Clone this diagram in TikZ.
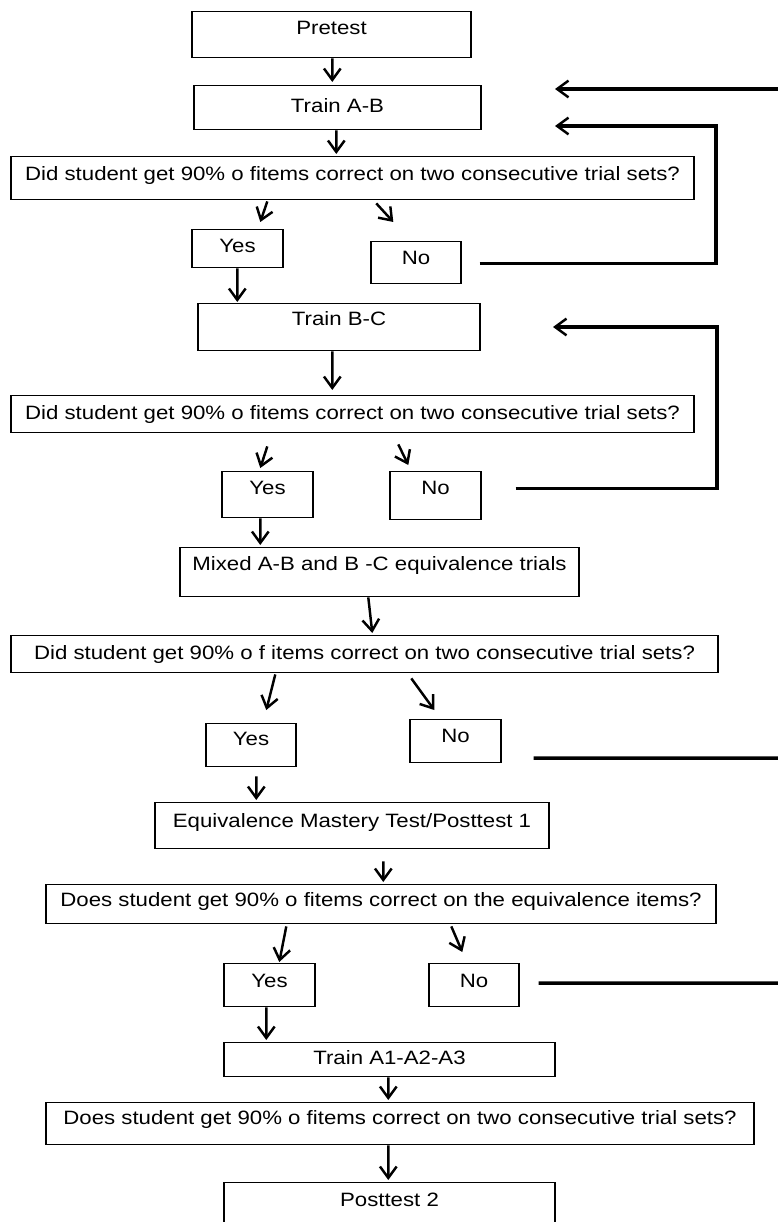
\documentclass[tikz,border=0pt]{standalone}
\usepackage{fontspec}
\setmainfont{Liberation Sans}[FakeStretch=1.15]
\usetikzlibrary{calc,arrows.meta}
\tikzset{
	box/.style={draw, line width=0.8pt, inner sep=0pt, anchor=north, font=\fontsize{11}{13}\selectfont},
	arr/.style={line width=1.4pt, -{Straight Barb[length=6.5pt,width=9.5pt,line width=1.4pt]}},
	ret/.style={line width=2pt, line join=miter},
}
% name, x1, y1, x2, y2, baseline, text (all in px)
\newcommand{\flowbox}[7]{%
	\pgfmathsetmacro\bw{(#4-#2)*0.02}%
	\pgfmathsetmacro\th{(#6-#3)*0.02}%
	\pgfmathsetmacro\td{(#5-#6)*0.02}%
	\node[box, minimum width=\bw cm, text height=\th cm, text depth=\td cm] (#1) at ({(#2+#4)/2},#3) {#7};}

\begin{document}
\begin{tikzpicture}[x=0.02cm, y=-0.02cm]
			%%%%% START %%%%%
			\useasboundingbox (0,0) rectangle (777,1222);
			
			\flowbox{pretest}{192}{11}{471}{57}{34}{Pretest}
			\flowbox{trainAB}{194}{85}{481}{129}{112}{Train A-B}
			\flowbox{qA}{11}{156}{694}{199}{180}{Did student get 90\% o fitems correct on two consecutive trial sets?}
			\flowbox{yesA}{192}{229}{283}{267}{252}{Yes}
			\flowbox{noA}{371}{241}{461}{283}{264}{No}
			
			\flowbox{trainBC}{198}{303}{480}{350}{325}{Train B-C}
			\flowbox{qB}{11}{395}{694}{432}{419}{Did student get 90\% o fitems correct on two consecutive trial sets?}
			\flowbox{yesB}{222}{471}{313}{517}{494}{Yes}
			\flowbox{noB}{390}{471}{481}{519}{494}{No}
			
			\flowbox{mixed}{180}{547}{579}{596}{570}{Mixed A-B and B -C equivalence trials}
			\flowbox{qC}{11}{635}{718}{672}{659}{Did student get 90\% o f items correct on two consecutive trial sets?}
			\flowbox{yesC}{206}{723}{296}{766}{745}{Yes}
			\flowbox{noC}{410}{719}{501}{762}{742}{No}
			
			\flowbox{equiv}{155}{802}{549}{848}{827}{Equivalence Mastery Test/Posttest 1}
			\flowbox{qD}{46}{884}{716}{923}{906}{Does student get 90\% o fitems correct on the equivalence items?}
			\flowbox{yesD}{224}{963}{315}{1006}{987}{Yes}
			\flowbox{noD}{429}{963}{519}{1006}{987}{No}
			
			\flowbox{trainA}{224}{1042}{555}{1076}{1064}{Train A1-A2-A3}
			\flowbox{qE}{46}{1102}{754}{1144}{1124}{Does student get 90\% o fitems correct on two consecutive trial sets?}
			\flowbox{post}{224}{1182}{555}{1240}{1206}{Posttest 2}
			
			% forward arrows
			\draw[arr] ($(pretest.south west)+(141,0)$) -- ($(trainAB.north west)+(139,-3)$);
			\draw[arr] ($(trainAB.south west)+(143,0)$) -- ($(qA.north west)+(326,-2)$);
			\draw[arr] ($(qA.south west)+(257,1)$) -- ($(yesA.north west)+(69,-7)$);
			\draw[arr] ($(qA.south west)+(366,3)$) -- ($(noA.north west)+(23,-19)$);
			\draw[arr] ($(yesA.south west)+(46,0)$) -- ($(trainBC.north west)+(40,-1)$);
			\draw[arr] ($(trainBC.south west)+(135,0)$) -- ($(qB.north west)+(322,-5)$);
			\draw[arr] ($(qB.south west)+(257,13)$) -- ($(yesB.north west)+(39,-3)$);
			\draw[arr] ($(qB.south west)+(388,11)$) -- ($(noB.north west)+(19,-6)$);
			\draw[arr] ($(yesB.south west)+(39,0)$) -- ($(mixed.north west)+(81,-2)$);
			\draw[arr] ($(mixed.south west)+(189,0)$) -- ($(qC.north west)+(362,-2)$);
			\draw[arr] ($(qC.south west)+(265,1)$) -- ($(yesC.north west)+(61,-13)$);
			\draw[arr] ($(qC.south west)+(401,5)$) -- ($(noC.north west)+(25,-9)$);
			\draw[arr] ($(yesC.south west)+(51,9)$) -- ($(equiv.north west)+(102,-2)$);
			\draw[arr] ($(equiv.south west)+(229,12)$) -- ($(qD.north west)+(338,-2)$);
			\draw[arr] ($(qD.south west)+(241,2)$) -- ($(yesD.north west)+(56,-1)$);
			\draw[arr] ($(qD.south west)+(406,2)$) -- ($(noD.north west)+(34,-11)$);
			\draw[arr] ($(yesD.south west)+(43,0)$) -- ($(trainA.north west)+(43,-2)$);
			\draw[arr] ($(trainA.south west)+(165,0)$) -- ($(qE.north west)+(343,-2)$);
			\draw[arr] ($(qE.south west)+(343,0)$) -- ($(post.north west)+(165,-2)$);
			
			% loops back
			\coordinate (feed) at (780,89);
			\coordinate (backTop) at (555,89);
			\coordinate (turnA) at (716,126);
			\coordinate (backA) at (555,126);
			\coordinate (turnB) at (717,327);
			\coordinate (backB) at (553,327);
			\coordinate (outC) at (780,758);
			\coordinate (outD) at (780,983);
			\draw[ret, arr, line width=2pt] (feed) -- (backTop);
			\draw[ret, arr, line width=2pt] ($(noA.east)+(18,1)$) -| (turnA) -- (backA);
			\draw[ret, arr, line width=2pt] ($(noB.east)+(34,-7)$) -| (turnB) -- (backB);
			\draw[ret] ($(noC.east)+(32,17)$) -- (outC);
			\draw[ret] ($(noD.east)+(19,-2)$) -- (outD);
			%%%%% END %%%%%
\end{tikzpicture}
\end{document}
